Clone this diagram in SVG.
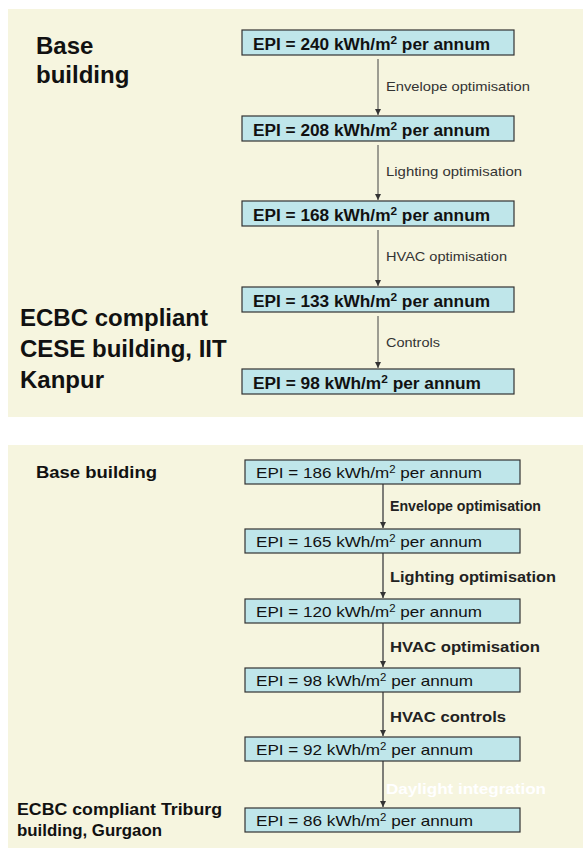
<svg xmlns="http://www.w3.org/2000/svg" width="583" height="848" viewBox="0 0 583 848">
<style>
.panel{fill:#F6F5DF;}
.box{fill:#BFE6EA;stroke:#333;stroke-width:1.2;}
.bt{font-family:"Liberation Sans",Arial,sans-serif;font-size:16px;font-weight:bold;fill:#111;}
.bb{font-family:"Liberation Sans",Arial,sans-serif;font-size:15px;fill:#111;}
.lt{font-family:"Liberation Sans",Arial,sans-serif;font-size:13px;fill:#333;}
.lb{font-family:"Liberation Sans",Arial,sans-serif;font-size:15px;font-weight:bold;fill:#222;}
.big{font-family:"Liberation Sans",Arial,sans-serif;font-size:24px;font-weight:bold;fill:#111;}
.mid{font-family:"Liberation Sans",Arial,sans-serif;font-size:16px;font-weight:bold;fill:#111;}
.c1{stroke:#444;stroke-width:1;fill:none;}
.c2{stroke:#555;stroke-width:1.5;fill:none;}
</style>
<defs>
<marker id="ah" viewBox="0 0 8 8" refX="8" refY="4" markerWidth="6" markerHeight="6" orient="auto" markerUnits="userSpaceOnUse">
<path d="M0,0 L8,4 L0,8 z" fill="#333"/>
</marker>
</defs>
<rect class="panel" x="8" y="9" width="575" height="408"/>
<rect class="panel" x="8" y="445" width="575" height="403"/>

<g id="connectors">
<line class="c1" x1="378" y1="59" x2="378" y2="115" marker-end="url(#ah)"/>
<line class="c1" x1="378" y1="145" x2="378" y2="200" marker-end="url(#ah)"/>
<line class="c1" x1="378" y1="230" x2="378" y2="286" marker-end="url(#ah)"/>
<line class="c1" x1="378" y1="316" x2="378" y2="368" marker-end="url(#ah)"/>
<line class="c2" x1="383" y1="484" x2="383" y2="528" marker-end="url(#ah)"/>
<line class="c2" x1="383" y1="553" x2="383" y2="598" marker-end="url(#ah)"/>
<line class="c2" x1="383" y1="623" x2="383" y2="667" marker-end="url(#ah)"/>
<line class="c2" x1="383" y1="692" x2="383" y2="736" marker-end="url(#ah)"/>
<line class="c2" x1="383" y1="761" x2="383" y2="807" marker-end="url(#ah)"/>
<text class="lt" x="386" y="91" textLength="144" lengthAdjust="spacingAndGlyphs">Envelope optimisation</text>
<text class="lt" x="386" y="176" textLength="136" lengthAdjust="spacingAndGlyphs">Lighting optimisation</text>
<text class="lt" x="386" y="261" textLength="121" lengthAdjust="spacingAndGlyphs">HVAC optimisation</text>
<text class="lt" x="386" y="347" textLength="54" lengthAdjust="spacingAndGlyphs">Controls</text>
<text class="lb" x="390" y="511" font-size="13" textLength="151" lengthAdjust="spacingAndGlyphs">Envelope optimisation</text>
<text class="lb" x="390" y="582" textLength="166" lengthAdjust="spacingAndGlyphs">Lighting optimisation</text>
<text class="lb" x="390" y="652" textLength="150" lengthAdjust="spacingAndGlyphs">HVAC optimisation</text>
<text class="lb" x="390" y="722" textLength="116" lengthAdjust="spacingAndGlyphs">HVAC controls</text>
<text class="lb" x="386" y="794" fill="#fff" style="fill:#fff" textLength="160" lengthAdjust="spacingAndGlyphs">Daylight integration</text>
</g>

<g id="label-base1"><text class="big" x="36" y="54">Base</text><text class="big" x="36" y="83">building</text></g>
<g id="label-ecbc1"><text class="big" x="20" y="326">ECBC compliant</text><text class="big" x="20" y="357">CESE building, IIT</text><text class="big" x="20" y="388">Kanpur</text></g>

<g id="t1"><rect class="box" x="242" y="30" width="272" height="25"/><text class="bt" x="253" y="50" textLength="237" lengthAdjust="spacingAndGlyphs">EPI = 240 kWh/m<tspan dy="-6" font-size="11">2</tspan><tspan dy="6"> per annum</tspan></text></g>
<g id="t2"><rect class="box" x="242" y="116" width="272" height="25"/><text class="bt" x="253" y="136" textLength="237" lengthAdjust="spacingAndGlyphs">EPI = 208 kWh/m<tspan dy="-6" font-size="11">2</tspan><tspan dy="6"> per annum</tspan></text></g>
<g id="t3"><rect class="box" x="242" y="201" width="272" height="25"/><text class="bt" x="253" y="221" textLength="237" lengthAdjust="spacingAndGlyphs">EPI = 168 kWh/m<tspan dy="-6" font-size="11">2</tspan><tspan dy="6"> per annum</tspan></text></g>
<g id="t4"><rect class="box" x="242" y="287" width="272" height="25"/><text class="bt" x="253" y="307" textLength="237" lengthAdjust="spacingAndGlyphs">EPI = 133 kWh/m<tspan dy="-6" font-size="11">2</tspan><tspan dy="6"> per annum</tspan></text></g>
<g id="t5"><rect class="box" x="242" y="369" width="272" height="25"/><text class="bt" x="253" y="389" textLength="228" lengthAdjust="spacingAndGlyphs">EPI = 98 kWh/m<tspan dy="-6" font-size="11">2</tspan><tspan dy="6"> per annum</tspan></text></g>

<g id="label-base2"><text class="mid" x="36" y="478" textLength="121" lengthAdjust="spacingAndGlyphs">Base building</text></g>
<g id="label-ecbc2"><text class="mid" x="17" y="815" textLength="205" lengthAdjust="spacingAndGlyphs">ECBC compliant Triburg</text><text class="mid" x="17" y="836" textLength="145" lengthAdjust="spacingAndGlyphs">building, Gurgaon</text></g>

<g id="b1"><rect class="box" x="245" y="460" width="275" height="24"/><text class="bb" x="256" y="478" textLength="226" lengthAdjust="spacingAndGlyphs">EPI = 186 kWh/m<tspan dy="-5" font-size="10">2</tspan><tspan dy="5"> per annum</tspan></text></g>
<g id="b2"><rect class="box" x="245" y="529" width="275" height="24"/><text class="bb" x="256" y="547" textLength="226" lengthAdjust="spacingAndGlyphs">EPI = 165 kWh/m<tspan dy="-5" font-size="10">2</tspan><tspan dy="5"> per annum</tspan></text></g>
<g id="b3"><rect class="box" x="245" y="599" width="275" height="24"/><text class="bb" x="256" y="617" textLength="226" lengthAdjust="spacingAndGlyphs">EPI = 120 kWh/m<tspan dy="-5" font-size="10">2</tspan><tspan dy="5"> per annum</tspan></text></g>
<g id="b4"><rect class="box" x="245" y="668" width="275" height="24"/><text class="bb" x="256" y="686" textLength="217" lengthAdjust="spacingAndGlyphs">EPI = 98 kWh/m<tspan dy="-5" font-size="10">2</tspan><tspan dy="5"> per annum</tspan></text></g>
<g id="b5"><rect class="box" x="245" y="737" width="275" height="24"/><text class="bb" x="256" y="755" textLength="217" lengthAdjust="spacingAndGlyphs">EPI = 92 kWh/m<tspan dy="-5" font-size="10">2</tspan><tspan dy="5"> per annum</tspan></text></g>
<g id="b6"><rect class="box" x="245" y="808" width="275" height="24"/><text class="bb" x="256" y="826" textLength="217" lengthAdjust="spacingAndGlyphs">EPI = 86 kWh/m<tspan dy="-5" font-size="10">2</tspan><tspan dy="5"> per annum</tspan></text></g>
</svg>
